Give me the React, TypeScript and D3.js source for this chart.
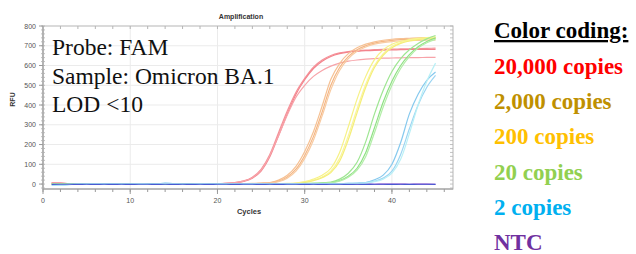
import React from "react";
import * as d3 from "d3";

const W = 636;
const H = 254;

// cycles 1..45
const cycles = d3.range(1, 46);

// 20,000 copies
const red1 = [8, 6, 1, 0, 0, -1, 0, 0, 1, 0, 0, 1, 0, 2, 1, 0, 0, 1, 1, 2, 4, 8, 16, 35, 75, 150, 260, 370, 465, 535, 592, 628, 651, 664, 671, 675, 678, 680, 682, 683, 684, 685, 686, 687, 688];
const red2 = [5, 4, 2, 0, 1, 0, -1, 0, 0, 1, 0, 0, 1, 1, 0, 0, 1, 0, 1, 2, 3, 6, 13, 30, 66, 138, 245, 355, 455, 528, 585, 622, 646, 660, 668, 672, 675, 677, 678, 679, 680, 681, 681, 682, 682];
const red3 = [6, 5, 2, 1, 0, 0, 0, 1, 0, 0, 1, 0, 0, 1, 1, 0, 0, 0, 1, 2, 4, 8, 15, 32, 70, 145, 245, 350, 440, 500, 545, 575, 597, 612, 622, 628, 632, 635, 637, 638, 639, 640, 640, 641, 641];
// 2,000 copies
const orange1 = [1, 0, 0, 0, 1, 0, 0, 0, 1, 0, 0, 0, 0, 1, 0, 0, 0, 1, 0, 0, 1, 1, 2, 3, 5, 8, 20, 45, 90, 165, 265, 395, 530, 610, 660, 690, 708, 720, 728, 733, 736, 738, 740, 741, 742];
const orange2 = [0, 1, 0, 0, 0, 0, 1, 0, 0, 0, 1, 0, 0, 0, 1, 0, 0, 0, 1, 0, 0, 1, 1, 2, 4, 6, 15, 36, 75, 145, 240, 365, 500, 590, 645, 680, 700, 713, 722, 727, 731, 733, 735, 736, 737];
const orange3 = [0, 0, 1, 0, 0, 1, 0, 0, 0, 1, 0, 0, 1, 0, 0, 0, 1, 0, 0, 0, 1, 1, 2, 2, 3, 5, 12, 30, 65, 130, 222, 345, 478, 575, 635, 672, 694, 708, 716, 721, 724, 726, 727, 728, 729];
// 200 copies
const yellow1 = [0, 0, 0, 1, 0, 0, 0, 0, 1, 0, 0, 0, 0, 0, 1, 0, 0, 0, 0, 1, 0, 0, 0, 1, 1, 1, 2, 3, 5, 12, 25, 45, 80, 160, 290, 430, 545, 630, 680, 708, 722, 731, 737, 741, 745];
const yellow2 = [0, 1, 0, 0, 0, 0, 1, 0, 0, 0, 0, 1, 0, 0, 0, 0, 1, 0, 0, 0, 0, 1, 0, 0, 1, 1, 1, 2, 4, 9, 20, 36, 65, 130, 245, 380, 505, 600, 660, 697, 716, 727, 734, 738, 741];
const yellow3 = [1, 0, 0, 0, 0, 1, 0, 0, 0, 0, 1, 0, 0, 0, 0, 1, 0, 0, 0, 0, 1, 0, 0, 0, 0, 1, 1, 2, 3, 8, 17, 32, 58, 115, 225, 360, 490, 590, 652, 690, 712, 724, 731, 735, 738];
// 20 copies
const green1 = [0, 0, 1, 0, 0, 0, 0, 1, 0, 0, 0, 0, 1, 0, 0, 0, 0, 1, 0, 0, 0, 0, 1, 0, 0, 1, 1, 1, 2, 3, 4, 6, 10, 25, 55, 110, 215, 355, 475, 570, 635, 680, 712, 735, 752];
const green2 = [0, 0, 0, 0, 1, 0, 0, 0, 0, 1, 0, 0, 0, 0, 1, 0, 0, 0, 0, 1, 0, 0, 0, 0, 1, 0, 1, 1, 1, 2, 3, 5, 8, 18, 40, 80, 160, 285, 415, 520, 600, 655, 695, 722, 740];
const green3 = [1, 0, 0, 0, 0, 0, 1, 0, 0, 0, 0, 0, 1, 0, 0, 0, 0, 0, 1, 0, 0, 0, 0, 0, 1, 0, 0, 1, 1, 2, 3, 4, 7, 15, 35, 70, 140, 260, 390, 500, 585, 645, 688, 715, 732];
// 2 copies
const blue1 = [-4, -3, -2, 0, 0, 0, 1, 0, 0, 0, 0, 1, 0, 5, 2, 0, 0, 0, 0, 0, 0, 0, 1, 0, 0, 0, 1, 0, 0, 1, 1, 1, 2, 2, 3, 5, 8, 22, 45, 100, 210, 355, 455, 525, 567];
const blue2 = [-6, -5, -3, -1, 0, 0, 0, 1, 0, 0, 0, 0, 1, 3, 1, 0, 0, 0, 1, 0, 0, 0, 0, 1, 0, 0, 0, 1, 0, 0, 1, 1, 1, 2, 3, 4, 7, 15, 30, 65, 150, 280, 400, 490, 550];
const cyan1 = [-3, -4, -2, 0, 0, 1, 0, 0, 0, 0, 1, 0, 0, 2, 1, 0, 0, 1, 0, 0, 0, 0, 0, 0, 1, 0, 0, 0, 1, 0, 0, 1, 1, 1, 2, 3, 5, 12, 25, 55, 125, 255, 400, 520, 612];
// NTC
const ntc1 = [-2, -1, -1, -2, -1, -2, -1, -2, -1, -2, -1, -1, -2, -1, -2, -1, -2, -1, -2, -1, -1, -2, -1, -1, -2, -1, -2, -1, -1, -2, -1, -2, -1, -1, -2, -1, -2, -1, -1, -2, -1, -2, -1, -1, -2];
const ntc2 = [0, 1, 0, -1, 0, 0, -1, 0, 0, -1, 0, 0, 0, -1, 0, 0, -1, 0, 0, 0, -1, 0, 0, -1, 0, 0, 0, -1, 0, 0, -1, 0, 0, 0, -1, 0, 0, -1, 0, 0, 0, -1, 0, 0, -1];

const curves: { values: number[]; color: string }[] = [
  { values: ntc2, color: "#9a4ccc" },
  { values: red1, color: "#f5939a" },
  { values: red2, color: "#f3838c" },
  { values: red3, color: "#f7a3a9" },
  { values: orange1, color: "#f6c193" },
  { values: orange2, color: "#f4b684" },
  { values: orange3, color: "#f8cba2" },
  { values: yellow1, color: "#f7f286" },
  { values: yellow2, color: "#f9f59d" },
  { values: yellow3, color: "#f5ee78" },
  { values: green1, color: "#9ee692" },
  { values: green2, color: "#8fe184" },
  { values: green3, color: "#b3eea8" },
  { values: blue1, color: "#86c9ee" },
  { values: blue2, color: "#9cd5f2" },
  { values: cyan1, color: "#b9f0f6" },
  { values: ntc1, color: "#4a5ad2" },
];

const xTicks = [0, 10, 20, 30, 40];
const yTicks = [0, 100, 200, 300, 400, 500, 600, 700, 800];

const probeText = ["Probe: FAM", "Sample: Omicron BA.1", "LOD <10"];

const legendTitle = "Color coding:";
const legendLabels = ["20,000 copies", "2,000 copies", "200 copies", "20 copies", "2 copies", "NTC"];
const legendColors = ["#ff0000", "#bf9000", "#ffc000", "#92d050", "#00b0f0", "#7030a0"];

const App = () => {
  const x = d3.scaleLinear().domain([0, 47]).range([43, 453]);
  const y = d3.scaleLinear().domain([-25, 800]).range([189, 26]);

  const line = d3
    .line<number>()
    .x((d, i) => x(cycles[i]))
    .y((d) => y(d))
    .curve(d3.curveMonotoneX);

  const xMinor = d3.range(0, 47, 2);
  const yMinor = d3.range(-20, 801, 20);
  const axisColor = "#9a9a9a";
  const sans = "'Liberation Sans', Arial, sans-serif";
  const serif = "'Liberation Serif', 'Times New Roman', serif";

  return (
    <svg width={W} height={H} style={{ position: "absolute", left: 0, top: 0, background: "#fff" }}>
      {/* grid */}
      {xTicks.slice(1).map((t) => (
        <line key={"gx" + t} x1={x(t)} x2={x(t)} y1={26} y2={189} stroke="#ebebeb" strokeWidth={1} />
      ))}
      {yTicks.slice(1, -1).map((t) => (
        <line key={"gy" + t} x1={43} x2={453} y1={y(t)} y2={y(t)} stroke="#ebebeb" strokeWidth={1} />
      ))}

      {/* frame */}
      <rect x={43} y={26} width={410} height={163} fill="none" stroke="#b5b5b5" strokeWidth={1} />
      <line x1={43} x2={43} y1={26} y2={189} stroke={axisColor} strokeWidth={1.2} />
      <line x1={43} x2={453} y1={189} y2={189} stroke={axisColor} strokeWidth={1.2} />

      {/* minor ticks */}
      {xMinor.map((t) => (
        <g key={"mx" + t}>
          <line x1={x(t)} x2={x(t)} y1={189} y2={192} stroke={axisColor} />
          <line x1={x(t)} x2={x(t)} y1={26} y2={29} stroke="#b5b5b5" />
        </g>
      ))}
      {yMinor.map((t) => (
        <g key={"my" + t}>
          <line x1={41} x2={45} y1={y(t)} y2={y(t)} stroke="#b0b0b0" strokeWidth={0.8} />
          <line x1={450} x2={453} y1={y(t)} y2={y(t)} stroke="#b5b5b5" strokeWidth={0.8} />
        </g>
      ))}
      {yTicks.map((t) => (
        <g key={"ty" + t}>
          <line x1={39} x2={43} y1={y(t)} y2={y(t)} stroke={axisColor} />
          <text x={36} y={y(t) + 2.5} textAnchor="end" fontSize={7} fontFamily={sans} fill="#555">
            {t}
          </text>
        </g>
      ))}
      {xTicks.map((t) => (
        <g key={"tx" + t}>
          <line x1={x(t)} x2={x(t)} y1={189} y2={194} stroke={axisColor} />
          <text x={x(t)} y={203} textAnchor="middle" fontSize={7} fontFamily={sans} fill="#555">
            {t}
          </text>
        </g>
      ))}

      {/* curves */}
      {curves.map((c, i) => (
        <path key={"c" + i} d={line(c.values) || ""} fill="none" stroke={c.color} strokeWidth={1.2} />
      ))}

      {/* titles */}
      <text x={241} y={19} textAnchor="middle" fontSize={7} fontWeight="bold" fontFamily={sans} fill="#333">
        Amplification
      </text>
      <text x={249} y={214} textAnchor="middle" fontSize={7.5} fontWeight="bold" fontFamily={sans} fill="#333">
        Cycles
      </text>
      <text
        transform={`translate(15,${(26 + 189) / 2 - 8}) rotate(-90)`}
        textAnchor="middle"
        fontSize={7}
        fontWeight="bold"
        fontFamily={sans}
        fill="#333"
      >
        RFU
      </text>

      {/* annotation */}
      {probeText.map((t, i) => (
        <text key={"p" + i} x={52} y={55 + i * 28.5} fontSize={23.5} fontFamily={serif} fill="#111">
          {t}
        </text>
      ))}

      {/* legend */}
      <text x={494} y={38} fontSize={23} fontWeight="bold" fontFamily={serif} fill="#000" textDecoration="underline">
        {legendTitle}
      </text>
      {legendLabels.map((t, i) => (
        <text key={"l" + i} x={494} y={74 + i * 35.2} fontSize={23} fontWeight="bold" fontFamily={serif} fill={legendColors[i]}>
          {t}
        </text>
      ))}
    </svg>
  );
};

export default App;
